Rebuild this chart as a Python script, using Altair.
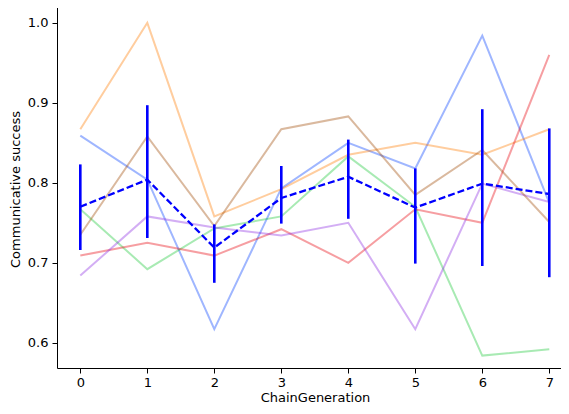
import altair as alt
import pandas as pd

generations = [0, 1, 2, 3, 4, 5, 6, 7]
chain_names = ["c1", "c2", "c3", "c4", "c5", "c6"]
chain_colors = ["#023EFF", "#FF7C00", "#1AC938", "#E8000B", "#8B2BE2", "#9F4800"]

c1 = [0.859, 0.804, 0.617, 0.793, 0.850, 0.818, 0.984, 0.775]
c2 = [0.867, 1.000, 0.758, 0.792, 0.835, 0.850, 0.835, 0.867]
c3 = [0.767, 0.692, 0.743, 0.758, 0.833, 0.770, 0.584, 0.592]
c4 = [0.709, 0.725, 0.709, 0.742, 0.700, 0.767, 0.750, 0.960]
c5 = [0.684, 0.758, 0.744, 0.734, 0.750, 0.617, 0.799, 0.776]
c6 = [0.735, 0.858, 0.746, 0.867, 0.883, 0.785, 0.841, 0.751]

mean_vals = [0.770, 0.804, 0.719, 0.781, 0.8075, 0.769, 0.799, 0.786]
ci_low = [0.716, 0.731, 0.675, 0.749, 0.755, 0.699, 0.696, 0.682]
ci_high = [0.823, 0.897, 0.748, 0.821, 0.854, 0.818, 0.892, 0.868]

y_ticks = [0.6, 0.7, 0.8, 0.9, 1.0]

series = [c1, c2, c3, c4, c5, c6]
rows = []
for name, vals in zip(chain_names, series):
    for g, v in zip(generations, vals):
        rows.append({"gen": g, "chain": name, "val": v})
df_chains = pd.DataFrame(rows)
df_mean = pd.DataFrame({"gen": generations, "mean": mean_vals, "lo": ci_low, "hi": ci_high})

W, H = 504, 362

x_scale = alt.Scale(domain=[-0.348, 7.175], nice=False, zero=False)
y_scale = alt.Scale(domain=[0.5685, 1.021], nice=False, zero=False)

x_axis = alt.Axis(values=generations, format="d", title="ChainGeneration", labelPadding=3,
                  titleX=258, titleY=29, titleBaseline="middle", titleAlign="center")
y_axis = alt.Axis(values=y_ticks, format=".1f", title="Communicative success",
                  titleX=-42, titleY=183, titleBaseline="middle", titleAlign="center", titleAngle=270)

lines = alt.Chart(df_chains).mark_line(strokeWidth=2, opacity=0.38).encode(
    x=alt.X("gen:Q", scale=x_scale, axis=x_axis),
    y=alt.Y("val:Q", scale=y_scale, axis=y_axis),
    color=alt.Color("chain:N", scale=alt.Scale(domain=chain_names, range=chain_colors), legend=None),
    detail="chain:N",
)

bars = alt.Chart(df_mean).mark_rule(color="#0000FF", strokeWidth=2.6).encode(
    x=alt.X("gen:Q", scale=x_scale),
    y=alt.Y("lo:Q", scale=y_scale),
    y2="hi:Q",
)

mean_line = alt.Chart(df_mean).mark_line(color="#0000FF", strokeWidth=2.3, strokeDash=[7, 3]).encode(
    x=alt.X("gen:Q", scale=x_scale),
    y=alt.Y("mean:Q", scale=y_scale),
)

top_spine = alt.Chart(pd.DataFrame({"k": [0]})).mark_rule(color="black", strokeWidth=1).encode(
    x=alt.value(0), x2=alt.value(W), y=alt.value(0.5),
)

chart = alt.layer(lines, bars, mean_line, top_spine).properties(
    width=W, height=H,
    autosize=alt.AutoSizeParams(type="none"),
    padding={"left": 49, "top": -2, "right": 0, "bottom": 38},
).configure_view(
    stroke=None
).configure_axis(
    grid=False,
    domainColor="black", domainWidth=1,
    tickColor="black", tickSize=5, tickWidth=1,
    labelFont="DejaVu Sans", labelFontSize=13, labelColor="black", labelPadding=4,
    titleFont="DejaVu Sans", titleFontSize=13, titleFontWeight="normal", titleColor="black",
)

chart.save("out.html", embed_options={"renderer": "svg", "actions": False})
